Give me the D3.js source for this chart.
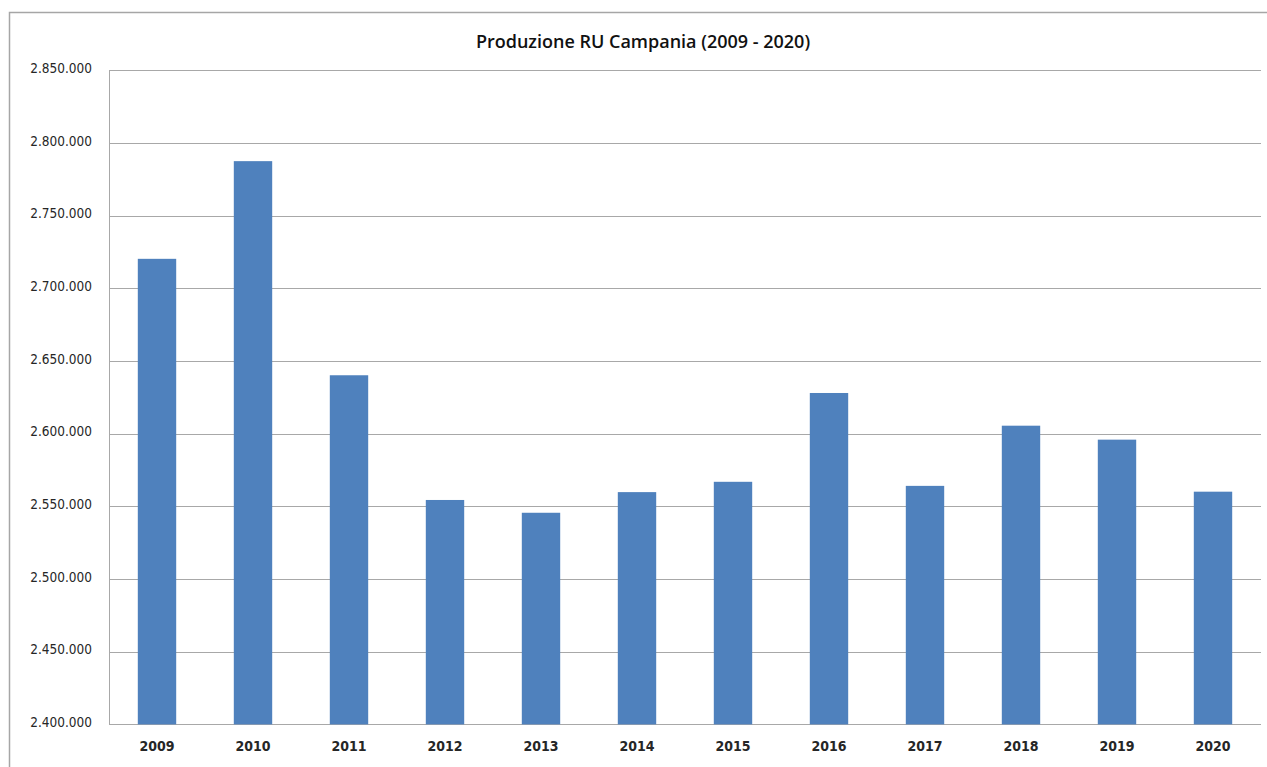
<!DOCTYPE html>
<html>
<head>
<meta charset="utf-8">
<script src="https://cdn.jsdelivr.net/npm/d3@7"></script>
<style>
  html, body { margin: 0; padding: 0; background: #fff; }
  svg { display: block; }
</style>
</head>
<body>
<svg id="chart" width="1267" height="767"></svg>
<script>
// Produzione di rifiuti urbani in Campania, tonnellate per anno
const years = ["2009", "2010", "2011", "2012", "2013", "2014", "2015", "2016", "2017", "2018", "2019", "2020"];
const production = [2720300, 2787500, 2640200, 2554400, 2545600, 2559800, 2566900, 2628000, 2564100, 2605500, 2595900, 2560100];
const yTicks = [2400000, 2450000, 2500000, 2550000, 2600000, 2650000, 2700000, 2750000, 2800000, 2850000];
const chartTitle = "Produzione RU Campania (2009 - 2020)";

const svg = d3.select("#chart");
const W = 1267, H = 767;
const plot = { left: 109, right: 1261, top: 70.3, bottom: 724.4 };

// outer chart frame
svg.append("rect")
  .attr("x", 9.5).attr("y", 12.5)
  .attr("width", W + 20).attr("height", H + 20)
  .attr("fill", "#fff")
  .attr("stroke", "#a6a6a6").attr("stroke-width", 1.5);

const x = d3.scaleBand().domain(years).range([plot.left, plot.right]).paddingInner(0.6).paddingOuter(0.3);
const y = d3.scaleLinear().domain([2400000, 2850000]).range([plot.bottom, plot.top]);

const fmt = v => d3.format(",")(v).replace(/,/g, ".");

// horizontal gridlines
svg.append("g")
  .selectAll("line")
  .data(yTicks)
  .join("line")
  .attr("x1", plot.left).attr("x2", plot.right)
  .attr("y1", d => Math.round(y(d)) + 0.5).attr("y2", d => Math.round(y(d)) + 0.5)
  .attr("stroke", "#a8a8a8").attr("stroke-width", 1);

// left edge of plot area
svg.append("line")
  .attr("x1", plot.left + 0.5).attr("x2", plot.left + 0.5)
  .attr("y1", plot.top).attr("y2", plot.bottom)
  .attr("stroke", "#a8a8a8");

// bars
svg.append("g")
  .selectAll("rect")
  .data(years.map((yr, i) => ({ yr, v: production[i] })))
  .join("rect")
  .attr("x", d => x(d.yr))
  .attr("width", x.bandwidth())
  .attr("y", d => y(d.v))
  .attr("height", d => y(2400000) - y(d.v))
  .attr("fill", "#4f81bd");

// y axis labels
const yAxis = d3.axisLeft(y).tickValues(yTicks).tickFormat(fmt).tickSize(0).tickPadding(17);
const gy = svg.append("g").attr("transform", `translate(${plot.left},0)`).call(yAxis);
gy.select(".domain").remove();
gy.selectAll("text")
  .attr("font-family", "'DejaVu Sans Condensed', 'DejaVu Sans', sans-serif")
  .attr("font-size", 13.5)
  .attr("fill", "#262626")
  .attr("dy", "0.15em");

// x axis labels
const xAxis = d3.axisBottom(x).tickSize(0).tickPadding(17);
const gx = svg.append("g").attr("transform", `translate(0,${plot.bottom})`).call(xAxis);
gx.select(".domain").remove();
gx.selectAll("text")
  .attr("font-family", "'DejaVu Sans Condensed', 'DejaVu Sans', sans-serif")
  .attr("font-size", 14)
  .attr("font-weight", "bold")
  .attr("fill", "#262626");

// title
svg.append("text")
  .attr("x", 643).attr("y", 48)
  .attr("text-anchor", "middle")
  .attr("font-family", "'Open Sans', sans-serif")
  .attr("font-size", 18)
  .attr("font-weight", 600)
  .attr("fill", "#111")
  .text(chartTitle);
</script>
</body>
</html>
